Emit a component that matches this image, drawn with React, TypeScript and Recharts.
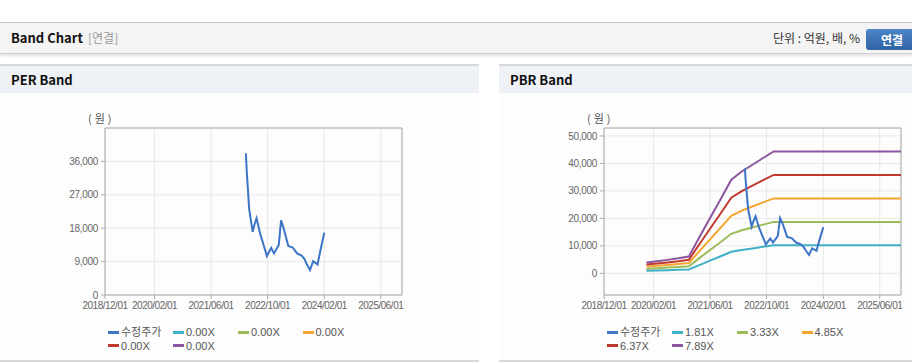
import React from 'react'
import { LineChart, Line, XAxis, YAxis, CartesianGrid, ReferenceArea } from 'recharts'

const xTickDates = ['2018/12/01', '2020/02/01', '2021/06/01', '2022/10/01', '2024/02/01', '2025/06/01']
const xStart = '2018/12/01'
const xEnd = '2025/12/01'

// 수정주가
const priceDates = [
  '2022/03/28', '2022/04/04', '2022/04/15', '2022/04/25', '2022/05/25', '2022/06/10',
  '2022/06/28', '2022/07/28', '2022/09/25', '2022/11/01', '2022/11/25', '2023/01/05',
  '2023/01/25', '2023/02/18', '2023/03/28', '2023/05/05', '2023/06/12', '2023/07/20',
  '2023/08/12', '2023/09/05', '2023/10/01', '2023/10/28', '2023/12/05', '2023/12/28',
  '2024/02/01',
]
const priceValues = [
  38200, 33500, 28200, 23300, 17000, 19000,
  20700, 16600, 10500, 12700, 11200, 13500,
  20100, 17800, 13200, 12800, 11200, 10600,
  9800, 8200, 6700, 9100, 8200, 11800,
  16800,
]

// PBR band lines
const bandDates = [
  '2019/12/01', '2020/03/01', '2020/06/01', '2020/09/01', '2020/12/01', '2021/03/01',
  '2021/06/01', '2021/09/01', '2021/12/01', '2022/03/01', '2022/06/01', '2022/09/01',
  '2022/12/01', '2023/12/01', '2024/12/01', '2025/12/01',
]
const pbr181 = [905, 1010, 1120, 1250, 1400, 3000, 4620, 6210, 7820, 8510, 9070, 9630, 10170, 10170, 10170, 10170]
const pbr333 = [1670, 1870, 2070, 2300, 2580, 5530, 8490, 11420, 14390, 15650, 16680, 17720, 18720, 18720, 18720, 18720]
const pbr485 = [2430, 2720, 3010, 3350, 3760, 8050, 12370, 16640, 20950, 22800, 24300, 25800, 27260, 27260, 27260, 27260]
const pbr637 = [3190, 3570, 3950, 4400, 4940, 10570, 16240, 21850, 27520, 29940, 31910, 33890, 35800, 35800, 35800, 35800]
const pbr789 = [3950, 4420, 4890, 5440, 6120, 13100, 20120, 27060, 34090, 37080, 39530, 41980, 44340, 44340, 44340, 44340]

const perLabels = ['0.00X', '0.00X', '0.00X', '0.00X', '0.00X']
const pbrLabels = ['1.81X', '3.33X', '4.85X', '6.37X', '7.89X']
const priceLabel = '수정주가'

const perYTicks = [0, 9000, 18000, 27000, 36000]
const perYDomain = [0, 45000]
const pbrYTicks = [0, 10000, 20000, 30000, 40000, 50000]
const pbrYDomain = [-7900, 52900]

const priceColor = '#3d74c6'
const bandColors = ['#40b0c6', '#9bbb59', '#f6a430', '#c0392f', '#8b559f']

const toT = (s: string) => {
  const [y, m, d] = s.split('/').map(Number)
  return Date.UTC(y, m - 1, d)
}
const fmtDate = (t: number) => {
  const d = new Date(t)
  const p = (n: number) => String(n).padStart(2, '0')
  return `${d.getUTCFullYear()}/${p(d.getUTCMonth() + 1)}/${p(d.getUTCDate())}`
}
const fmtNum = (v: number) => v.toLocaleString('en-US')

const xMin = toT(xStart)
const xMax = toT(xEnd)
const xTicks = xTickDates.map(toT)

function buildTable(withBands: boolean) {
  const rows: Record<number, any> = {}
  priceDates.forEach((d, i) => {
    const t = toT(d)
    rows[t] = { ...(rows[t] || { t }), price: priceValues[i] }
  })
  if (withBands) {
    const bands = [pbr181, pbr333, pbr485, pbr637, pbr789]
    bandDates.forEach((d, i) => {
      const t = toT(d)
      const r = rows[t] || { t }
      bands.forEach((b, k) => (r['b' + k] = b[i]))
      rows[t] = r
    })
  }
  return Object.values(rows).sort((a: any, b: any) => a.t - b.t)
}

const perTable = buildTable(false)
const pbrTable = buildTable(true)

const tickFont = { fontSize: 10, fill: '#666', fontFamily: '"Liberation Sans", Arial, sans-serif' }

function BandPlot({ data, yTicks, yDomain, bands }: any) {
  return (
    <LineChart width={420} height={220} data={data} margin={{ top: 28, right: 18, left: 0, bottom: 0 }}>
      <CartesianGrid stroke="#e8e8e8" />
      <ReferenceArea
        x1={xMin}
        x2={xMax}
        y1={yDomain[0]}
        y2={yDomain[1]}
        fill="none"
        stroke="#aaa"
        ifOverflow="visible"
      />
      <XAxis
        type="number"
        dataKey="t"
        domain={[xMin, xMax]}
        ticks={xTicks}
        interval={0}
        tickFormatter={fmtDate}
        tick={{ ...tickFont, letterSpacing: -0.5 }}
        axisLine={false}
        tickLine={{ stroke: '#aaa' }}
        tickSize={4}
        tickMargin={3}
        height={25}
        allowDataOverflow
      />
      <YAxis
        type="number"
        domain={yDomain}
        ticks={yTicks}
        interval={0}
        tickFormatter={fmtNum}
        tick={{ ...tickFont, letterSpacing: -0.3 }}
        axisLine={false}
        tickLine={{ stroke: '#aaa' }}
        tickSize={4}
        tickMargin={3}
        width={105}
        allowDataOverflow
      />
      {bands &&
        bandColors.map((c, k) => (
          <Line
            key={k}
            type="linear"
            dataKey={'b' + k}
            stroke={c}
            strokeWidth={2}
            dot={false}
            connectNulls
            isAnimationActive={false}
          />
        ))}
      <Line
        type="linear"
        dataKey="price"
        stroke={priceColor}
        strokeWidth={2}
        dot={false}
        connectNulls
        isAnimationActive={false}
      />
    </LineChart>
  )
}

const legendCols = [108, 173, 238, 302.5]

function Legend({ labels }: { labels: string[] }) {
  const items = [{ name: priceLabel, color: priceColor }, ...labels.map((l, i) => ({ name: l, color: bandColors[i] }))]
  return (
    <>
      {items.map((it, i) => (
        <div
          key={i}
          style={{
            position: 'absolute',
            left: legendCols[i % 4],
            top: 259 + Math.floor(i / 4) * 13.5,
            height: 14,
            lineHeight: '14px',
            display: 'flex',
            alignItems: 'center',
            fontSize: 11,
            color: '#555',
            whiteSpace: 'nowrap',
            fontFamily: '"Liberation Sans", "Noto Sans CJK KR", sans-serif',
          }}
        >
          <span style={{ display: 'inline-block', width: 11, height: 3, background: it.color, marginRight: 2 }} />
          {it.name}
        </div>
      ))}
    </>
  )
}

function Panel({ left, width, title, children, labels }: any) {
  return (
    <div style={{ position: 'absolute', left, top: 64, width, height: 298, background: '#fdfdfd', borderTop: '2px solid #d8d8d8', borderBottom: '2px solid #d8d8d8', boxSizing: 'border-box' }}>
      <div style={{ height: 27, background: '#eef1f6', lineHeight: '27px', paddingLeft: 11, fontSize: 13, fontWeight: 700, color: '#111' }}>
        {title}
      </div>
      <div style={{ position: 'absolute', left: 88, top: 45, fontSize: 11, color: '#555', lineHeight: '14px', letterSpacing: 3 }}>(원)</div>
      <div style={{ position: 'absolute', left: 0, top: 34 }}>{children}</div>
      <Legend labels={labels} />
    </div>
  )
}

export default function App() {
  return (
    <div style={{ position: 'absolute', left: 0, top: 0, width: 912, height: 364, background: '#fff', overflow: 'hidden', fontFamily: '"Noto Sans CJK KR", sans-serif' }}>
      <div style={{ position: 'absolute', left: 0, top: 22, width: 912, height: 30, background: '#f4f4f4', borderTop: '1px solid #c4c4c4', borderBottom: '1px solid #cfcfcf', boxShadow: '0 2px 3px rgba(0,0,0,0.12)' }}>
        <span style={{ position: 'absolute', left: 11, top: 0, lineHeight: '30px', fontSize: 13, fontWeight: 700, color: '#111' }}>Band Chart</span>
        <span style={{ position: 'absolute', left: 88, top: 0, lineHeight: '30px', fontSize: 12, color: '#999' }}>[연결]</span>
        <span style={{ position: 'absolute', right: 52, top: 0, lineHeight: '30px', fontSize: 12, color: '#333' }}>단위 : 억원, 배, %</span>
        <div style={{ position: 'absolute', left: 866, top: 6, width: 52, height: 21, borderRadius: 3, background: 'linear-gradient(#4d85c7, #2f63a6)', color: '#fff', fontSize: 12, fontWeight: 700, lineHeight: '21px', textAlign: 'center' }}>
          연결
        </div>
      </div>
      <Panel left={0} width={479} title="PER Band" labels={perLabels}>
        <BandPlot data={perTable} yTicks={perYTicks} yDomain={perYDomain} bands={false} />
      </Panel>
      <Panel left={499} width={413} title="PBR Band" labels={pbrLabels}>
        <BandPlot data={pbrTable} yTicks={pbrYTicks} yDomain={pbrYDomain} bands />
      </Panel>
    </div>
  )
}
